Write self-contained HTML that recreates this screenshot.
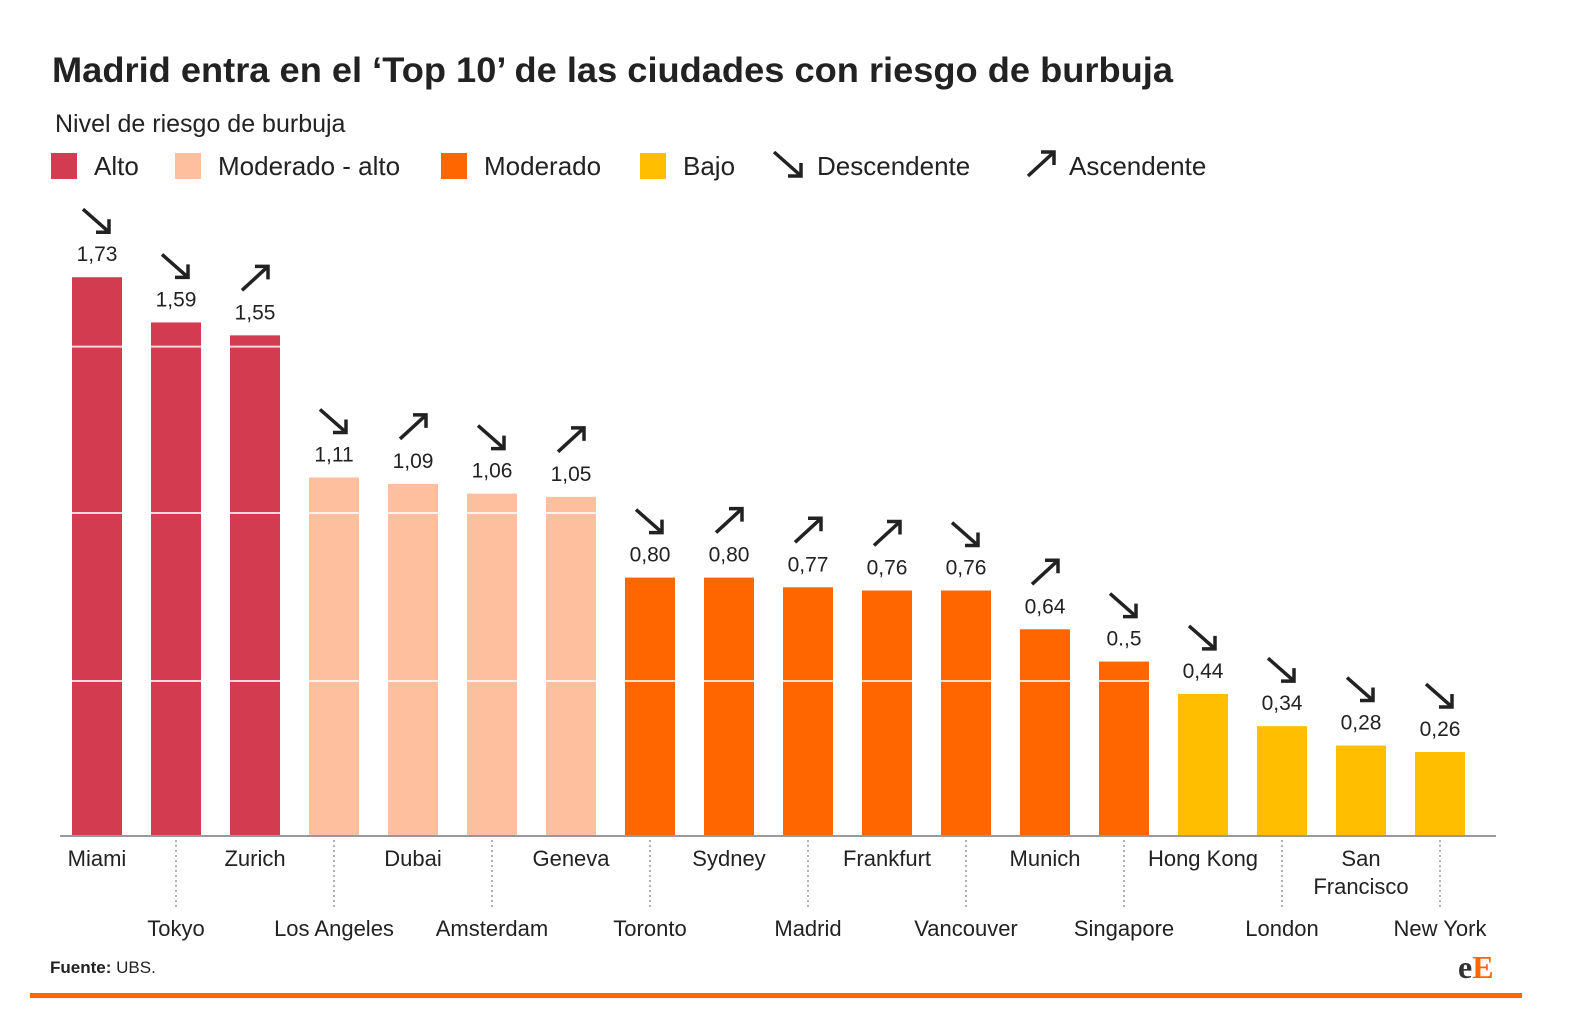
<!DOCTYPE html>
<html><head><meta charset="utf-8">
<style>
body{margin:0;background:#fff;font-family:"Liberation Sans",sans-serif;}
#wrap{position:relative;width:1570px;height:1026px;overflow:hidden;background:#fff}
</style></head>
<body>
<div id="wrap">
<svg id="chart" width="1570" height="1026" font-family="Liberation Sans, sans-serif">
<text x="52" y="82" font-size="35" font-weight="bold" fill="#222" textLength="1121" lengthAdjust="spacingAndGlyphs">Madrid entra en el ‘Top 10’ de las ciudades con riesgo de burbuja</text>
<text x="55" y="132" font-size="25" fill="#222">Nivel de riesgo de burbuja</text>
<g>
<rect x="51" y="153" width="26" height="26" fill="#d33c50"/>
<text x="94" y="175" font-size="26" fill="#222">Alto</text>
<rect x="175" y="153" width="26" height="26" fill="#fdbf9e"/>
<text x="218" y="175" font-size="26" fill="#222">Moderado - alto</text>
<rect x="441" y="153" width="26" height="26" fill="#ff6600"/>
<text x="484" y="175" font-size="26" fill="#222">Moderado</text>
<rect x="640" y="153" width="26" height="26" fill="#ffbf00"/>
<text x="683" y="175" font-size="26" fill="#222">Bajo</text>
<g stroke="#222" stroke-width="3.5" fill="none"><line x1="774" y1="152" x2="800" y2="175"/><polyline points="788,176 801,176 801,163"/></g>
<text x="817" y="175" font-size="26" fill="#222">Descendente</text>
<g stroke="#222" stroke-width="3.5" fill="none"><line x1="1028" y1="176" x2="1053" y2="153"/><polyline points="1041,152 1054,152 1054,165"/></g>
<text x="1069" y="175" font-size="26" fill="#222">Ascendente</text>
</g>
<g id="bars"></g>
<line x1="60" y1="836" x2="1496" y2="836" stroke="#999" stroke-width="2"/>
<text x="50" y="973" font-size="17" fill="#222"><tspan font-weight="bold">Fuente:</tspan> UBS.</text>
<text x="1458" y="978" font-size="32" font-family="Liberation Serif, serif" font-weight="bold" fill="#333">e<tspan fill="#ff6600">E</tspan></text>
<rect x="30" y="993" width="1492" height="5" fill="#ff6600"/>
</svg>
</div>
<script>
const cities=["Miami","Tokyo","Zurich","Los Angeles","Dubai","Amsterdam","Geneva","Toronto","Sydney","Madrid","Frankfurt","Vancouver","Munich","Singapore","Hong Kong","London","San Francisco","New York"];
const values=[1.73,1.59,1.55,1.11,1.09,1.06,1.05,0.80,0.80,0.77,0.76,0.76,0.64,0.54,0.44,0.34,0.28,0.26];
const valueLabels=["1,73","1,59","1,55","1,11","1,09","1,06","1,05","0,80","0,80","0,77","0,76","0,76","0,64","0.,5","0,44","0,34","0,28","0,26"];
const levels=["alto","alto","alto","ma","ma","ma","ma","m","m","m","m","m","m","m","b","b","b","b"];
const trends=["d","d","a","d","a","d","a","d","a","a","a","d","a","d","d","d","d","d"];
const gridValues=[0.48,1.0,1.515];
const colors={alto:"#d33c50",ma:"#fdbf9e",m:"#ff6600",b:"#ffbf00"};
const NS="http://www.w3.org/2000/svg";
const base=836, scale=323, x0=72, step=79, bw=50;
const y=v=>base-v*scale;
const xs=i=>x0+i*step;
const g=document.getElementById("bars");
function mk(t,a){const e=document.createElementNS(NS,t);for(const k in a)e.setAttribute(k,a[k]);return e;}
cities.forEach((c,i)=>{
  const top=y(values[i]), cx=xs(i)+bw/2;
  const r=mk("rect",{x:xs(i),y:top,width:bw,height:base-top,fill:colors[levels[i]]});
  
  
  g.appendChild(r);
  gridValues.forEach(gv=>{ if(gv<values[i]){const l=mk("line",{x1:xs(i),x2:xs(i)+bw,y1:y(gv),y2:y(gv),stroke:"#fff","stroke-width":2,"stroke-opacity":0.8});
    
    
    g.appendChild(l);}});
  const t=mk("text",{x:cx,y:top-16,"font-size":21,"text-anchor":"middle",fill:"#222"});
  t.textContent=valueLabels[i];
  
  
  g.appendChild(t);
  const ay=top-57;
  const ar=mk("g",{stroke:"#222","stroke-width":3.5,fill:"none"});
  
  
  if(trends[i]==="d"){
    ar.appendChild(mk("line",{x1:cx-14,y1:ay-11,x2:cx+11,y2:ay+11}));
    ar.appendChild(mk("polyline",{points:(cx-1)+","+(ay+12)+" "+(cx+12)+","+(ay+12)+" "+(cx+12)+","+(ay-1)}));
  } else {
    ar.appendChild(mk("line",{x1:cx-13,y1:ay+12,x2:cx+12,y2:ay-11}));
    ar.appendChild(mk("polyline",{points:(cx)+","+(ay-12)+" "+(cx+13)+","+(ay-12)+" "+(cx+13)+","+(ay+1)}));
  }
  g.appendChild(ar);
  const odd=i%2===1;
  if(odd){const d=mk("line",{x1:cx,x2:cx,y1:840,y2:908,stroke:"#999","stroke-width":1.5,"stroke-dasharray":"2,3"});
    
    
    g.appendChild(d);}
  const parts=c==="San Francisco"?["San","Francisco"]:[c];
  parts.forEach((p,k)=>{
    const lt=mk("text",{x:cx,y:(odd?936:866)+k*28,"font-size":22,"text-anchor":"middle",fill:"#222"});
    lt.textContent=p;
    
    
    g.appendChild(lt);
  });
});
</script>
</body></html>
